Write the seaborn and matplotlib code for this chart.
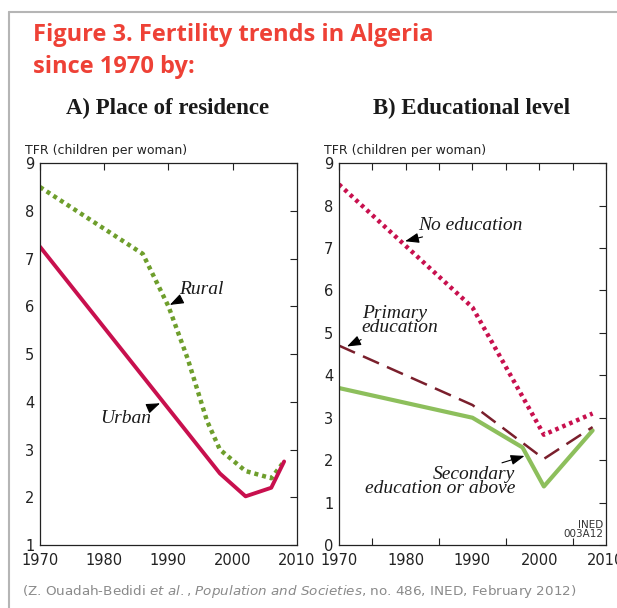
import matplotlib
matplotlib.use("Agg")
import matplotlib.pyplot as plt
import seaborn as sns
import pandas as pd
from matplotlib.lines import Line2D

# Panel A: place of residence
urban_years = [1970, 1998, 2002, 2006, 2008]
urban_tfr = [7.25, 2.5, 2.02, 2.2, 2.75]
rural_years = [1970, 1986, 1990, 1993, 1996, 1998, 2002, 2006, 2008]
rural_tfr = [8.5, 7.1, 6.0, 4.9, 3.6, 3.0, 2.55, 2.4, 2.75]

# Panel B: educational level
noedu_years = [1970, 1990, 2000.7, 2008]
noedu_tfr = [8.5, 5.6, 2.6, 3.1]
prim_years = [1970, 1990, 2000.7, 2008]
prim_tfr = [4.7, 3.3, 2.03, 2.78]
sec_years = [1970, 1990, 1997.5, 2000.7, 2008]
sec_tfr = [3.7, 3.0, 2.3, 1.38, 2.7]

year_ticks = [1970, 1980, 1990, 2000, 2010]

CRIMSON = "#c8104e"
GREEN_DOT = "#6e9e2c"
DARK_RED = "#7a1f2c"
LIGHT_GREEN = "#8dbf5c"
TITLE_RED = "#ee4136"

sns.set_theme(style="white")
plt.rcParams["font.family"] = ["DejaVu Sans"]

fig = plt.figure(figsize=(6.17, 6.08), dpi=100)
axA = fig.add_axes([0.0648, 0.1036, 0.4165, 0.628])
axB = fig.add_axes([0.5494, 0.1036, 0.4327, 0.628])

# frame of the box
fig.add_artist(Line2D([9 / 617, 9 / 617], [0, 1 - 12 / 608], color="#b5b5b5", lw=1.5))
fig.add_artist(Line2D([9 / 617, 1], [1 - 12 / 608, 1 - 12 / 608], color="#b5b5b5", lw=1.5))

dfA = pd.concat([
    pd.DataFrame({"year": urban_years, "tfr": urban_tfr, "series": "Urban"}),
    pd.DataFrame({"year": rural_years, "tfr": rural_tfr, "series": "Rural"}),
])
dfB = pd.concat([
    pd.DataFrame({"year": noedu_years, "tfr": noedu_tfr, "series": "No education"}),
    pd.DataFrame({"year": prim_years, "tfr": prim_tfr, "series": "Primary"}),
    pd.DataFrame({"year": sec_years, "tfr": sec_tfr, "series": "Secondary"}),
])

sns.lineplot(data=dfA[dfA.series == "Rural"], x="year", y="tfr", ax=axA,
             color=GREEN_DOT, lw=3.2, linestyle=(0, (0.9, 0.9)))
sns.lineplot(data=dfA[dfA.series == "Urban"], x="year", y="tfr", ax=axA,
             color=CRIMSON, lw=2.8)

sns.lineplot(data=dfB[dfB.series == "Secondary"], x="year", y="tfr", ax=axB,
             color=LIGHT_GREEN, lw=3.0)
sns.lineplot(data=dfB[dfB.series == "Primary"], x="year", y="tfr", ax=axB,
             color=DARK_RED, lw=1.8, linestyle=(0, (7, 3.5)))
sns.lineplot(data=dfB[dfB.series == "No education"], x="year", y="tfr", ax=axB,
             color=CRIMSON, lw=3.2, linestyle=(0, (0.8, 0.9)))

for ax, ylo in ((axA, 1), (axB, 0)):
    ax.set_xlim(1970, 2010)
    ax.set_ylim(ylo, 9)
    ax.set_xticks(year_ticks)
    ax.set_yticks(range(ylo, 10))
    ax.set_xlabel("")
    ax.set_ylabel("")
    for s in ax.spines.values():
        s.set_color("#222222")
        s.set_linewidth(0.9)
    ax.tick_params(direction="in", length=5, width=0.8, color="#222222",
                   top=True, right=True, labelsize=10.5, labelcolor="#222222", pad=4)
    ax.tick_params(axis="x", pad=6)
    ax.text(-15 / 260, 1.015, "TFR (children per woman)", transform=ax.transAxes,
            fontsize=9, color="#222222", ha="left", va="bottom")
axB.set_xticks(range(1975, 2010, 5), minor=True)
axB.tick_params(which="minor", direction="in", length=5, width=0.8, color="#222222",
                top=True, bottom=True)

ann = dict(fontsize=14, family="Liberation Serif", style="italic", color="#1a1a1a")
arrow = dict(arrowstyle="-|>,head_length=0.6,head_width=0.22", color="black", lw=0.8,
             shrinkA=0, shrinkB=0)

axA.annotate("Rural", xy=(1990.2, 6.03), xytext=(1991.6, 6.36), ha="left", va="center",
             arrowprops=arrow, **ann)
axA.annotate("Urban", xy=(1988.7, 3.97), xytext=(1987.3, 3.66), ha="right", va="center",
             arrowprops=arrow, **ann)

axB.annotate("No education", xy=(1979.9, 7.16), xytext=(1981.8, 7.54), ha="left",
             va="center", arrowprops=arrow, **ann)
axB.annotate("Primary\neducation", xy=(1971.2, 4.68), xytext=(1973.4, 4.92), ha="left",
             va="bottom", arrowprops=arrow, linespacing=0.8, **ann)
axB.annotate("Secondary\neducation or above", xy=(1997.8, 2.1), xytext=(1996.4, 1.12),
             ha="right", va="bottom", arrowprops=arrow, linespacing=0.8,
             multialignment="right", **ann)
axB.text(0.99, 0.015, "INED\n003A12", transform=axB.transAxes, ha="right", va="bottom",
         fontsize=7.5, color="#333333", linespacing=0.95,
         family=["Liberation Sans Narrow", "DejaVu Sans"])

fig.text(33 / 617, 1 - 23 / 608, "Figure 3. Fertility trends in Algeria\nsince 1970 by:",
         color=TITLE_RED, fontsize=17, fontweight="bold", ha="left", va="top",
         linespacing=1.45, family="Open Sans")
fig.text(168 / 617, 1 - 108 / 608, "A) Place of residence", family="Liberation Serif",
         fontweight="bold", fontsize=16.5, ha="center", va="center", color="#1a1a1a")
fig.text(472 / 617, 1 - 108 / 608, "B) Educational level", family="Liberation Serif",
         fontweight="bold", fontsize=16.5, ha="center", va="center", color="#1a1a1a")

fig.text(22 / 617, 1 - 592 / 608,
         "(Z. Ouadah-Bedidi $\\it{et\\ al.}$, $\\it{Population\\ and\\ Societies}$, no. 486, INED, February 2012)",
         color="#8a8a8a", fontsize=9.7, ha="left", va="center")

fig.savefig("out.png", dpi=100)
